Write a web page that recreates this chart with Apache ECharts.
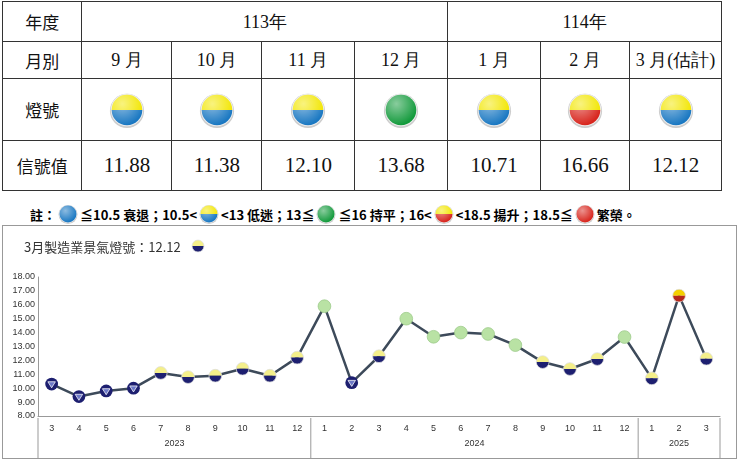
<!DOCTYPE html>
<html><head><meta charset="utf-8">
<script src="https://cdn.jsdelivr.net/npm/echarts@6/dist/echarts.min.js"></script>
<style>
body{margin:0;background:#fff;width:740px;height:460px;overflow:hidden;font-family:"Noto Sans CJK TC",sans-serif;position:relative}
table{position:absolute;left:2px;top:1px;border-collapse:collapse;width:720px}
td{border:1px solid #333;text-align:center;font-size:17px;color:#111;padding:0}
td.n{font-family:"Liberation Serif",serif;font-size:21px}
.note{position:absolute;left:30px;top:204px;font-size:13px;font-weight:bold;white-space:nowrap;display:flex;align-items:center}
.note img{width:20px;height:20px;margin:0 2px}
#chart{position:absolute;left:2px;top:225px;width:735px;height:234px;border:1px solid #999;box-sizing:border-box}
</style></head><body>
<table id="tb"></table>
<div class="note" id="note"></div>
<div id="chart"></div>
<script>
// 表格資料
const tableMonths=['9 月','10 月','11 月','12 月','1 月','2 月','3 月(估計)'];
const tableValues=[11.88,11.38,12.10,13.68,10.71,16.66,12.12];
// 折線圖資料
const months=['3','4','5','6','7','8','9','10','11','12','1','2','3','4','5','6','7','8','9','10','11','12','1','2','3'];
const scores=[10.3,9.4,9.8,10.0,11.1,10.8,10.9,11.4,10.9,12.2,15.9,10.4,12.3,15.0,13.7,14.0,13.9,13.1,11.88,11.38,12.10,13.68,10.71,16.66,12.12];
const years=[['2023',0,10],['2024',10,22],['2025',22,25]];

// 燈號圖示
function light(kind,big){
  const g=big?'<defs><radialGradient id="s" cx="35%" cy="30%" r="70%"><stop offset="0" stop-color="#fff" stop-opacity=".5"/><stop offset="1" stop-color="#fff" stop-opacity="0"/></radialGradient></defs>':'';
  let body='';
  const c={blue:'#1a78c2',yellow:'#f2e600',green:'#139a3c',red:'#d8261e',navy:'#1d1f70',ly:'#f4ef8a',lg:'#b9e2a4'};
  if(big){
    if(kind==='green'||kind==='blue'||kind==='red') body=`<circle cx="20" cy="20" r="17" fill="${c[kind]}"/>`;
    else { const bot=kind==='yr'?c.red:c.blue;
      body=`<path d="M3 20 A17 17 0 0 1 37 20Z" fill="${c.yellow}"/><path d="M3 20 A17 17 0 0 0 37 20Z" fill="${bot}"/>`;}
    return 'data:image/svg+xml;utf8,'+encodeURIComponent(`<svg xmlns="http://www.w3.org/2000/svg" width="40" height="40">${g}<circle cx="20" cy="21" r="19" fill="#ccc"/><circle cx="20" cy="20" r="18" fill="#eee"/>${body}<circle cx="20" cy="20" r="17" fill="url(#s)"/></svg>`);
  }
  if(kind==='blue') body=`<circle cx="10" cy="10" r="8.5" fill="${c.navy}"/><path d="M5 7 L15 7 L10 15Z" fill="#6d79c8" stroke="#fff" stroke-width="1"/>`;
  else if(kind==='green') body=`<circle cx="10" cy="10" r="8.5" fill="${c.lg}" stroke="#9cc98a"/>`;
  else { const top=kind==='yr'?'#f4d000':c.ly, bot=kind==='yr'?'#b5281c':c.navy;
    body=`<path d="M1.5 10 A8.5 8.5 0 0 1 18.5 10Z" fill="${top}"/><path d="M1.5 10 A8.5 8.5 0 0 0 18.5 10Z" fill="${bot}"/><circle cx="10" cy="10" r="8.5" fill="none" stroke="#ddd" stroke-width="1"/>`;}
  return 'image://data:image/svg+xml;utf8,'+encodeURIComponent(`<svg xmlns="http://www.w3.org/2000/svg" width="20" height="20">${body}</svg>`);
}
function kindOf(v){return v<=10.5?'blue':v<13?'yb':v<=16?'green':v<18.5?'yr':'red';}

// 表格
let h='<tr style="height:40px"><td>年度</td><td colspan="4" class="n" style="font-size:18px">113年</td><td colspan="3" class="n" style="font-size:18px">114年</td></tr>';
h+='<tr style="height:37px"><td style="width:80px">月別</td>'+tableMonths.map((m,i)=>`<td class="n" style="font-size:18px;width:${[90,90,93,93,93,89,92][i]}px">${m}</td>`).join('')+'</tr>';
h+='<tr style="height:62px"><td>燈號</td>'+tableValues.map(v=>`<td><img src="${light(kindOf(v),true)}" width="36" height="36" style="vertical-align:middle"></td>`).join('')+'</tr>';
h+='<tr style="height:50px"><td>信號值</td>'+tableValues.map(v=>`<td class="n">${v.toFixed(2)}</td>`).join('')+'</tr>';
document.getElementById('tb').innerHTML=h;
const I=k=>`<img src="${light(k,true)}">`;
document.getElementById('note').innerHTML=`註：${I('blue')}≦10.5 衰退；10.5&lt;${I('yb')}&lt;13 低迷；13≦${I('green')}≦16 持平；16&lt;${I('yr')}&lt;18.5 揚升；18.5≦${I('red')} 繁榮。`;

// 折線圖
let myChart=echarts.init(document.getElementById('chart'));
let option={
  animation:false,
  title:{text:'3月製造業景氣燈號：12.12',left:16,top:10,textStyle:{fontSize:13,fontWeight:'normal',color:'#333',fontFamily:'Noto Sans CJK TC'}},
  graphic:[{type:'image',left:188,top:13,style:{image:light('yb').slice(8),width:14,height:14}}],
  grid:{left:35,right:16,top:51,bottom:42},
  xAxis:{type:'category',data:months,axisLine:{lineStyle:{color:'#999'}},
    axisTick:{interval:0,length:26,lineStyle:{color:'#999'}},
    axisLabel:{interval:0,fontSize:9,color:'#333',margin:8}},
  yAxis:{type:'value',min:8,max:18,interval:1,splitLine:{show:false},
    axisLine:{show:true,lineStyle:{color:'#999'}},axisTick:{show:false},
    axisLabel:{formatter:v=>v.toFixed(2),fontSize:9,color:'#333',margin:3}},
  series:[{type:'line',data:scores.map(v=>({value:v,symbol:light(kindOf(v))})),
    symbolSize:15,lineStyle:{color:'#3d4a5a',width:2.5}}]
};
myChart.setOption(option);
// 年份標籤
const gx=[];
years.forEach(([y,a,b])=>{
  const w=myChart.convertToPixel({xAxisIndex:0},1)-myChart.convertToPixel({xAxisIndex:0},0);
  const x0=myChart.convertToPixel({xAxisIndex:0},a)-w/2;
  const x1=x0+(b-a)*w;
  gx.push({type:'text',x:(x0+x1)/2,y:218,style:{text:y,fontSize:9,fill:'#333',textAlign:'center',textVerticalAlign:'middle'}});
  gx.push({type:'line',shape:{x1:x0,y1:192,x2:x0,y2:234},style:{stroke:'#999'}});
  if(b===25) gx.push({type:'line',shape:{x1:x1,y1:192,x2:x1,y2:234},style:{stroke:'#999'}});
});
myChart.setOption({graphic:option.graphic.concat(gx)});
window.addEventListener('resize',()=>myChart.resize());
</script>
</body></html>
